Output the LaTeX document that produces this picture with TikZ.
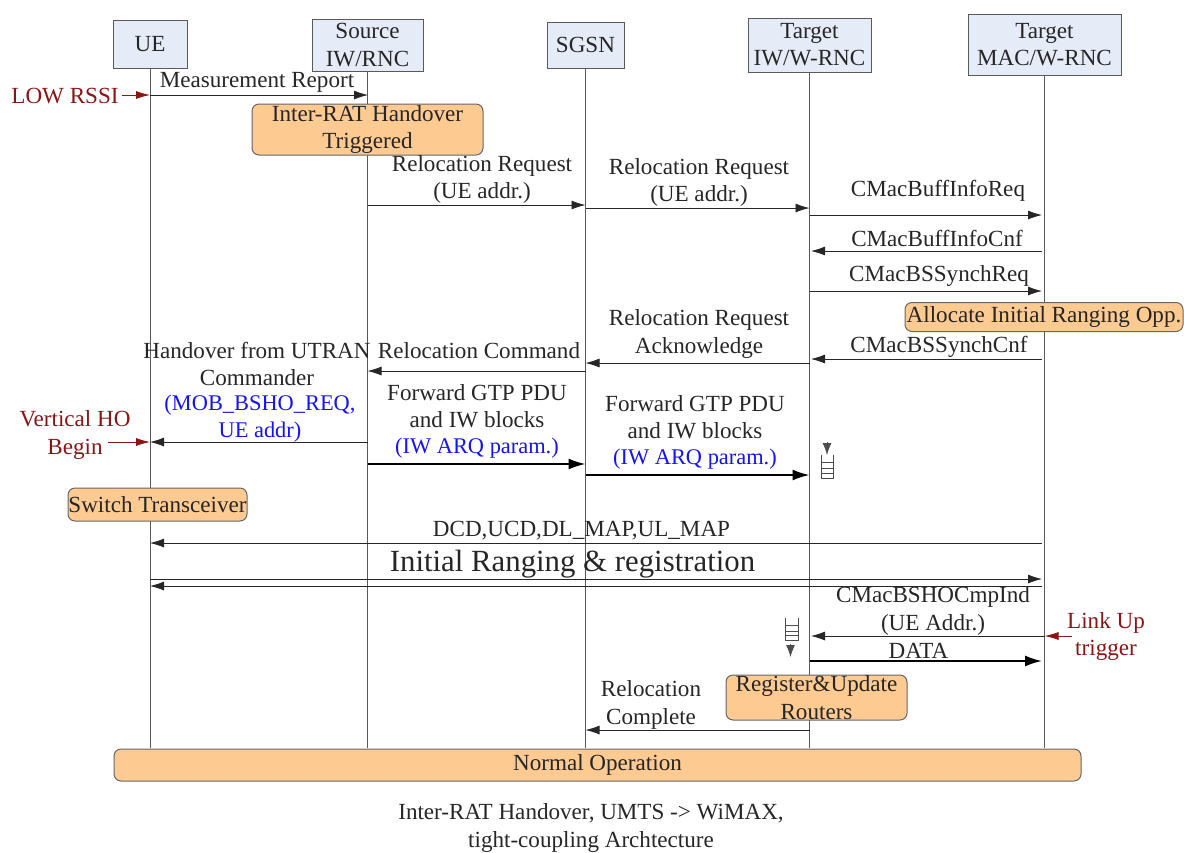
\documentclass[tikz,border=0pt]{standalone}
\usepackage{fontspec}
\setmainfont{Liberation Serif}
\usetikzlibrary{arrows.meta}
\definecolor{headfill}{RGB}{230,236,247}
\definecolor{stepfill}{RGB}{253,202,146}
\definecolor{darkred}{RGB}{139,20,20}
\definecolor{paramblue}{RGB}{20,20,240}
\tikzset{
    txt/.style={inner sep=0pt,align=center,font=\fontsize{11.55}{13.6}\selectfont,text=black!85},
    bluetxt/.style={txt,font=\fontsize{11.2}{13.6}\selectfont},
    redtxt/.style={txt,text=darkred},
    headbox/.style={txt,draw=black!65,line width=0.5pt,fill=headfill},
    stepbox/.style={txt,draw=black!60,line width=0.5pt,fill=stepfill,rounded corners=3.5pt},
    life/.style={draw=black!65,line width=0.5pt},
    msg/.style={-{Latex[length=7pt,width=4.5pt]},line width=0.4pt,black!85},
    bigmsg/.style={-{Latex[length=8.5pt,width=5.5pt]},line width=0.9pt,black},
    redmsg/.style={-{Latex[length=7pt,width=4pt]},line width=0.4pt,darkred},
    fifo/.style={line width=0.4pt,black!70}
}
\begin{document}
\begin{tikzpicture}[x=0.5pt,y=-0.5pt]
    \useasboundingbox (0,0) rectangle (1184,852);
    % heads
    \node[headbox,minimum width=37pt,minimum height=24pt] (ue) at (150,44) {UE};
    \node[headbox,minimum width=55.5pt,minimum height=26pt] (src) at (367.5,45) {Source\\IW/RNC};
    \node[headbox,minimum width=38.5pt,minimum height=23pt] (sgsn) at (585.5,45) {SGSN};
    \node[headbox,minimum width=61.5pt,minimum height=27pt] (tgt) at (809.5,45) {Target\\IW/W-RNC};
    \node[headbox,minimum width=76.5pt,minimum height=30.5pt] (mac) at (1044.5,44.5) {Target\\MAC/W-RNC};
    % lifelines
    \coordinate (ueend) at (150,748);
    \coordinate (srcend) at (367.5,748);
    \coordinate (sgsnend) at (585.5,748);
    \coordinate (tgtend) at (809.5,748);
    \coordinate (macend) at (1044.5,748);
    \draw[life] (ue) -- (ueend);
    \draw[life] (src) -- (srcend);
    \draw[life] (sgsn) -- (sgsnend);
    \draw[life] (tgt) -- (tgtend);
    \draw[life] (mac) -- (macend);
    % measurement
    \coordinate (mr1) at (150,95);
    \coordinate (mr2) at (368,95);
    \draw[msg] (mr1) -- (mr2);
    \node[txt] (mrtxt) at (257,82) {Measurement Report};
    \coordinate (low) at (122,95);
    \draw[redmsg] (low) -- (mr1);
    \node[redtxt] (lowtxt) at (65,96) {LOW RSSI};
    \node[stepbox,minimum width=115.5pt,minimum height=25.5pt] (irat) at (367.5,129.5) {Inter-RAT Handover\\Triggered};
    % relocation request
    \coordinate (rq1) at (367.5,205);
    \coordinate (rq2) at (585.5,205);
    \coordinate (rq3) at (585.5,208);
    \coordinate (rq4) at (809.5,208);
    \draw[msg] (rq1) -- (rq2);
    \draw[msg] (rq3) -- (rq4);
    \node[txt] (rqtxta) at (482,179.5) {Relocation Request\\(UE addr.)};
    \node[txt] (rqtxtb) at (699,182.5) {Relocation Request\\(UE addr.)};
    % cmac
    \coordinate (bi1) at (809.5,215);
    \coordinate (bi2) at (1042,215);
    \draw[msg] (bi1) -- (bi2);
    \node[txt] (bitxt) at (938,190.5) {CMacBuffInfoReq};
    \coordinate (bc1) at (1042,251);
    \coordinate (bc2) at (811,251);
    \draw[msg] (bc1) -- (bc2);
    \node[txt] (bctxt) at (937,238.5) {CMacBuffInfoCnf};
    \coordinate (bs1) at (809.5,291);
    \coordinate (bs2) at (1042,291);
    \draw[msg] (bs1) -- (bs2);
    \node[txt] (bstxt) at (939,275.5) {CMacBSSynchReq};
    \node[stepbox,minimum width=139pt,minimum height=14.5pt] (alloc) at (1044,317) {Allocate Initial Ranging Opp.};
    \coordinate (sc1) at (1042,359);
    \coordinate (sc2) at (811,359);
    \draw[msg] (sc1) -- (sc2);
    \node[txt] (sctxt) at (939,346.5) {CMacBSSynchCnf};
    % acknowledge and command
    \coordinate (ak1) at (809.5,363);
    \coordinate (ak2) at (585.5,363);
    \draw[msg] (ak1) -- (ak2);
    \node[txt] (aktxt) at (699,334) {Relocation Request\\Acknowledge};
    \coordinate (cm1) at (585.5,371);
    \coordinate (cm2) at (367.5,371);
    \draw[msg] (cm1) -- (cm2);
    \node[txt] (cmtxt) at (479,351) {Relocation Command};
    \coordinate (ho1) at (367.5,442);
    \coordinate (ho2) at (150,442);
    \draw[msg] (ho1) -- (ho2);
    \node[txt] (hotxt) at (257,364) {Handover from UTRAN\\Commander};
    \node[bluetxt] (hoblue) at (260,418.5) {\textcolor{paramblue}{(MOB\_BSHO\_REQ,}\\\textcolor{paramblue}{UE addr)}};
    \coordinate (vh) at (108,442);
    \draw[redmsg] (vh) -- (ho2);
    \node[redtxt] (vhtxt) at (75,435) {Vertical HO\\Begin};
    % forward
    \coordinate (fw1) at (367.5,464);
    \coordinate (fw2) at (585.5,464);
    \coordinate (fw3) at (585.5,475);
    \coordinate (fw4) at (809.5,475);
    \draw[bigmsg] (fw1) -- (fw2);
    \draw[bigmsg] (fw3) -- (fw4);
    \node[txt] (fwtxta) at (477,406) {Forward GTP PDU\\and IW blocks};
    \node[bluetxt] (fwbluea) at (477,448) {\textcolor{paramblue}{(IW ARQ param.)}};
    \node[txt] (fwtxtb) at (695,417.5) {Forward GTP PDU\\and IW blocks};
    \node[bluetxt] (fwblueb) at (695,459) {\textcolor{paramblue}{(IW ARQ param.)}};
    % buffer at target
    \draw[fifo] (821,455) -- (821,478) -- (833,478) -- (833,455);
    \draw[fifo] (821,462) -- (833,462);
    \draw[fifo] (821,468) -- (833,468);
    \draw[fifo] (821,473) -- (833,473);
    \coordinate (bfa) at (827,442);
    \coordinate (bfb) at (827,455);
    \draw[-{Latex[length=6pt,width=4.5pt]},fifo] (bfa) -- (bfb);
    \node[stepbox,minimum width=89.5pt,minimum height=16.5pt] (sw) at (157.5,504.5) {Switch Transceiver};
    % ranging
    \coordinate (dc1) at (1042,543);
    \coordinate (dc2) at (150,543);
    \draw[msg] (dc1) -- (dc2);
    \node[txt] (dctxt) at (581.5,531) {DCD,UCD,DL\_MAP,UL\_MAP};
    \coordinate (ir1) at (150,579);
    \coordinate (ir2) at (1042,579);
    \coordinate (ir3) at (1042,586);
    \coordinate (ir4) at (150,586);
    \draw[msg] (ir1) -- (ir2);
    \draw[msg] (ir3) -- (ir4);
    \node[txt,font=\fontsize{15.4}{18}\selectfont] (irtxt) at (572.5,564) {Initial Ranging \& registration};
    % link up
    \coordinate (cp1) at (1044.5,636);
    \coordinate (cp2) at (811,636);
    \draw[msg] (cp1) -- (cp2);
    \node[txt] (cptxt) at (933,611) {CMacBSHOCmpInd\\(UE Addr.)};
    \coordinate (lu) at (1072,636);
    \draw[redmsg] (lu) -- (cp1);
    \node[redtxt] (lutxt) at (1106,636.5) {Link Up\\trigger};
    \coordinate (da1) at (809.5,661);
    \coordinate (da2) at (1042,661);
    \draw[bigmsg] (da1) -- (da2);
    \node[txt] (datxt) at (918.5,651) {DATA};
    % buffer at target, second
    \draw[fifo] (785,618) -- (785,640) -- (798,640) -- (798,618);
    \draw[fifo] (785,625) -- (798,625);
    \draw[fifo] (785,631) -- (798,631);
    \draw[fifo] (785,635) -- (798,635);
    \coordinate (bga) at (790.5,644);
    \coordinate (bgb) at (790.5,657);
    \draw[-{Latex[length=6pt,width=4.5pt]},fifo] (bga) -- (bgb);
    % end
    \node[stepbox,minimum width=90.5pt,minimum height=22.5pt] (reg) at (816.5,697.5) {Register\&Update\\Routers};
    \coordinate (rc1) at (809.5,730);
    \coordinate (rc2) at (585.5,730);
    \draw[msg] (rc1) -- (rc2);
    \node[txt] (rctxt) at (651,705) {Relocation\\Complete};
    \node[stepbox,minimum width=483.5pt,minimum height=16pt] (normal) at (597.5,765) {Normal Operation};
    \node[txt] (caption) at (591,828) {Inter-RAT Handover, UMTS -> WiMAX,\\tight-coupling Archtecture};
\end{tikzpicture}
\end{document}
